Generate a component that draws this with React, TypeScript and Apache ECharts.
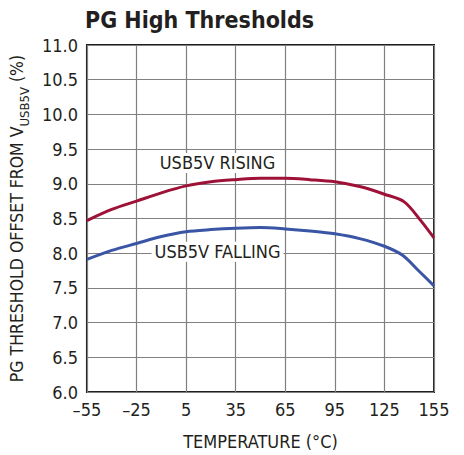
import React, { useEffect, useRef } from "react";
import * as echarts from "echarts";

const FONT = "'Liberation Sans Narrow', 'DejaVu Sans Condensed', 'Liberation Sans', sans-serif";

const xTicks = [-55, -25, 5, 35, 65, 95, 125, 155];
const risingT = [-55, -40, -25, -10, 5, 20, 35, 50, 65, 80, 95, 110, 125, 137, 147, 155];
const risingV = [8.47, 8.63, 8.75, 8.87, 8.97, 9.03, 9.06, 9.08, 9.08, 9.06, 9.03, 8.96, 8.85, 8.74, 8.47, 8.22];
const fallingT = [-55, -40, -25, -10, 5, 20, 35, 50, 65, 80, 95, 110, 125, 136, 146, 155];
const fallingV = [7.91, 8.04, 8.14, 8.24, 8.31, 8.34, 8.36, 8.37, 8.35, 8.32, 8.28, 8.21, 8.10, 7.97, 7.74, 7.53];
const labelRising = { text: "USB5V RISING", t: 24, v: 9.3 };
const labelFalling = { text: "USB5V FALLING", t: 24, v: 8.02 };

export default function App() {
  const ref = useRef<HTMLDivElement>(null);
  useEffect(() => {
    document.body.style.margin = "0";
    const chart = echarts.init(ref.current!, null, { renderer: "svg" });
    const mk = (l: { text: string; t: number; v: number }) => ({
      symbol: "rect",
      symbolSize: 0,
      data: [{ coord: [l.t, l.v], name: l.text }],
      label: {
        show: true,
        position: "inside",
        formatter: "{b}",
        color: "#231f20",
        fontFamily: FONT,
        fontSize: 18,
        backgroundColor: "#fff",
        padding: [1, 3],
      },
    });
    chart.setOption({
      animation: false,
      backgroundColor: "#fff",
      title: {
        text: "PG High Thresholds",
        left: 80,
        top: 3,
        textStyle: { fontFamily: FONT, fontWeight: "bold", fontSize: 23, color: "#231f20" },
      },
      grid: {
        left: 83,
        right: 30,
        top: 45,
        bottom: 58,
        show: true,
        borderColor: "#231f20",
        borderWidth: 2,
        backgroundColor: "transparent",
      },
      xAxis: {
        type: "value",
        min: -55,
        max: 155,
        interval: 30,
        name: "TEMPERATURE (°C)",
        nameLocation: "middle",
        nameGap: 40,
        nameTextStyle: { fontFamily: FONT, fontSize: 18, color: "#231f20" },
        axisLine: { show: false },
        axisTick: { show: false },
        axisLabel: {
          fontFamily: FONT,
          fontSize: 18,
          color: "#231f20",
          margin: 8,
          formatter: (v: number) => (v < 0 ? "\u2013" + Math.abs(v) : String(v)),
        },
        splitLine: { show: true, lineStyle: { color: "#808080", width: 1.2 } },
      },
      yAxis: {
        type: "value",
        min: 6,
        max: 11,
        interval: 0.5,
        name: "{a|PG THRESHOLD OFFSET FROM V}{s|USB5V}{a| (%)}",
        nameLocation: "middle",
        nameRotate: 90,
        nameGap: 56,
        nameTextStyle: {
          rich: {
            a: { fontFamily: FONT, fontSize: 17.5, color: "#231f20", lineHeight: 22, verticalAlign: "bottom" },
            s: { fontFamily: FONT, fontSize: 13, color: "#231f20", lineHeight: 22, verticalAlign: "bottom", padding: [0, 0, -5, 0] },
          },
        },
        axisLine: { show: false },
        axisTick: { show: false },
        axisLabel: {
          fontFamily: FONT,
          fontSize: 18,
          color: "#231f20",
          margin: 9,
          formatter: (v: number) => v.toFixed(1),
        },
        splitLine: { show: true, lineStyle: { color: "#808080", width: 1.2 } },
      },
      series: [
        {
          type: "line",
          data: risingT.map((t, i) => [t, risingV[i]]),
          smooth: 0.3,
          showSymbol: false,
          lineStyle: { color: "#9e1238", width: 3 },
          markPoint: mk(labelRising),
          z: 3,
        },
        {
          type: "line",
          data: fallingT.map((t, i) => [t, fallingV[i]]),
          smooth: 0.3,
          showSymbol: false,
          lineStyle: { color: "#3b55a6", width: 3 },
          markPoint: mk(labelFalling),
          z: 3,
        },
      ],
    });
    return () => chart.dispose();
  }, []);
  return <div ref={ref} style={{ width: 464, height: 455 }} />;
}
